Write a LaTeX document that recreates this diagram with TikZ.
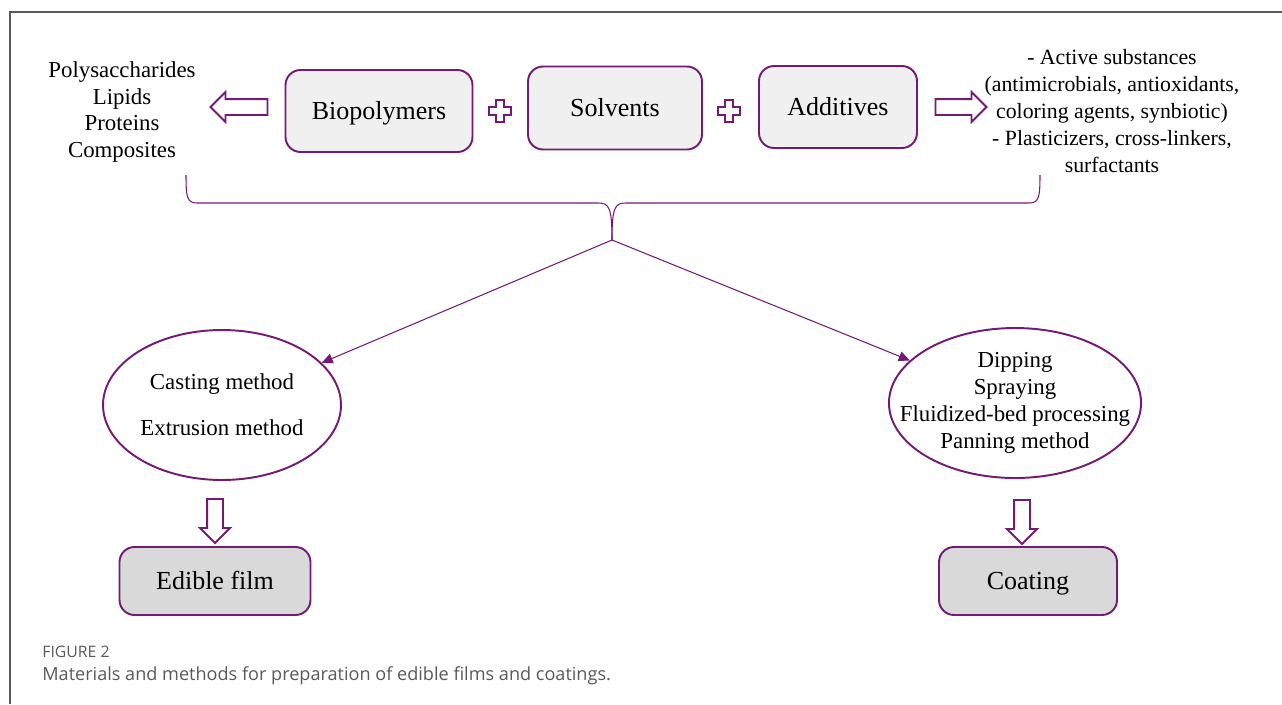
\documentclass[tikz,border=0pt]{standalone}
\usepackage{fontspec}
\setmainfont{Liberation Serif}
\newfontfamily\legfont{Open Sans}
\usetikzlibrary{arrows.meta,shapes.geometric,shapes.arrows}
\definecolor{roxo}{RGB}{116,26,116}
\definecolor{cinzaA}{RGB}{240,240,240}
\definecolor{cinzaB}{RGB}{217,217,217}

\begin{document}
\begin{tikzpicture}[x=0.02cm, y=-0.02cm, > = {Triangle[length=0.22cm,width=0.2cm]}]
    \tikzstyle{caixa}=[draw=roxo, line width=1.1pt, rounded corners=0.3cm, inner sep=0pt, text height=2.2ex, text depth=0.2ex, font=\fontsize{14.8}{18}\selectfont]
    \tikzstyle{lista}=[align=center, inner sep=0pt, font=\fontsize{13}{15.3}\selectfont]
    \tikzstyle{oval}=[ellipse, draw=roxo, line width=1.1pt, lista]
    \tikzstyle{seta}=[single arrow, draw=roxo, line width=1.1pt, inner sep=0.14cm, single arrow head extend=0.14cm, single arrow tip angle=90]
    \tikzstyle{fio}=[draw=roxo, line width=0.6pt]
    \tikzstyle{legenda}=[anchor=base west, inner sep=0pt, text=black!65]

    \useasboundingbox (0,0) rectangle (1282,704);
    \draw[black!65, line width=0.85pt] (10,704) -- (10,12) -- (1282,12);

    % Caixas
    \node[caixa, fill=cinzaA, minimum width=3.74cm, minimum height=1.64cm] (bio) at (379,111) {Biopolymers};
    \node[caixa, fill=cinzaA, minimum width=3.48cm, minimum height=1.66cm] (solv) at (615,108) {Solvents};
    \node[caixa, fill=cinzaA, minimum width=3.16cm, minimum height=1.64cm] (adit) at (838,107) {Additives};
    \node[caixa, fill=cinzaB, minimum width=3.82cm, minimum height=1.36cm] (filme) at (215,581) {Edible film};
    \node[caixa, fill=cinzaB, minimum width=3.56cm, minimum height=1.36cm] (cobert) at (1028,581) {Coating};

    % Textos
    \node[lista] (tipos) at (122,112) {Polysaccharides\\Lipids\\Proteins\\Composites};
    \node[lista, font=\fontsize{12.4}{15.3}\selectfont] (ativos) at (1112,111) {- Active substances\\(antimicrobials, antioxidants,\\coloring agents, synbiotic)\\- Plasticizers, cross-linkers,\\surfactants};

    % Elipses
    \node[oval, minimum width=4.76cm, minimum height=3cm] (cast) at (222,405) {Casting method\\[11pt]Extrusion method};
    \node[oval, inner xsep=-0.52cm, minimum width=5.04cm, minimum height=3cm] (dip) at (1015,403) {Dipping\\Spraying\\Fluidized-bed processing\\Panning method};

    % Setas largas
    \node[seta, minimum height=1.14cm, shape border rotate=180] (s1) at (243,107) {};
    \node[seta, minimum height=1.02cm] (s2) at (957,107) {};
    \node[seta, minimum height=0.88cm, shape border rotate=270] (s3) at (215,517) {};
    \node[seta, minimum height=0.88cm, shape border rotate=270] (s4) at (1022,518) {};

    % Sinais de mais
    \foreach \px in {500,729}
        \draw[roxo, line width=1.1pt, shift={(\px,111)}] (-4,-11) -- (4,-11) -- (4,-4) -- (11,-4) -- (11,4) -- (4,4) -- (4,11) -- (-4,11) -- (-4,4) -- (-11,4) -- (-11,-4) -- (-4,-4) -- cycle;

    % Chave
    \coordinate (ponta) at (612,240);
    \coordinate (ch1) at (186,175);
    \coordinate (ch2) at (1040,175);
    \draw[fio] (ch1) .. controls (186,197) and (187,203) .. (197,203) -- (598,203) .. controls (609,203) and (612,207) .. (ponta);
    \draw[fio] (ch2) .. controls (1040,197) and (1039,203) .. (1029,203) -- (626,203) .. controls (615,203) and (612,207) .. (ponta);

    % Arestas
    \draw[->, fio] (ponta) -- (cast);
    \draw[->, fio] (ponta) -- (dip);

    % Legenda
    \node[legenda, font=\legfont\fontsize{9}{11}\selectfont] (fig) at (42,657) {FIGURE 2};
    \node[legenda, font=\legfont\fontsize{10.3}{12}\selectfont] (leg) at (42,680) {Materials and methods for preparation of edible films and coatings.};
\end{tikzpicture}
\end{document}
